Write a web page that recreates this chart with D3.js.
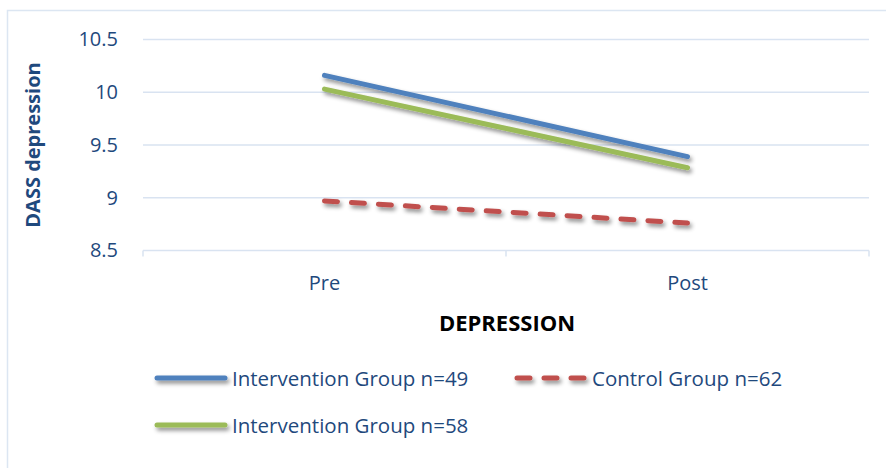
<!DOCTYPE html>
<html>
<head>
<meta charset="utf-8">
<script src="https://cdn.jsdelivr.net/npm/d3@7"></script>
<style>
  html, body { margin: 0; padding: 0; background: #fff; }
  svg { display: block; }
  text { font-family: "Open Sans", "Noto Sans", sans-serif; }
</style>
</head>
<body>
<svg id="chart" width="886" height="468"></svg>
<script>
// Mean DASS depression scores before and after
const timepoints = ["Pre", "Post"];
const intervention49 = [10.16, 9.39];
const control62 = [8.97, 8.76];
const intervention58 = [10.03, 9.285];
const yTicks = [8.5, 9, 9.5, 10, 10.5];

const series = [
  { name: "Intervention Group n=49", values: intervention49, color: "#4F81BD", dash: null },
  { name: "Intervention Group n=58", values: intervention58, color: "#9BBB59", dash: null },
  { name: "Control Group n=62", values: control62, color: "#C0504D", dash: "13,14" }
];

const svg = d3.select("#chart");
const textColor = "#1F497D";
const gridColor = "#D9E3F1";

// outer frame
svg.append("rect")
  .attr("x", 7.5).attr("y", 10.5)
  .attr("width", 890).attr("height", 470)
  .attr("fill", "none").attr("stroke", "#DCE6F2").attr("stroke-width", 1.5);

// soft drop shadow for the series lines (user-space region so flat lines keep it)
const defs = svg.append("defs");
const f = defs.append("filter").attr("id", "shadow")
  .attr("filterUnits", "userSpaceOnUse")
  .attr("x", 0).attr("y", 0).attr("width", 886).attr("height", 468);
f.append("feDropShadow").attr("dx", 2).attr("dy", 3).attr("stdDeviation", 2)
  .attr("flood-color", "#000").attr("flood-opacity", 0.45);

const plot = { left: 143, right: 869, top: 39.5, bottom: 250.5 };

const x = d3.scaleBand().domain(timepoints).range([plot.left, plot.right]);
const y = d3.scaleLinear().domain([8.5, 10.5]).range([plot.bottom, plot.top]);

// horizontal gridlines
svg.append("g").selectAll("line").data(yTicks.filter(t => t > 8.5)).join("line")
  .attr("x1", plot.left).attr("x2", plot.right)
  .attr("y1", d => y(d)).attr("y2", d => y(d))
  .attr("stroke", gridColor).attr("stroke-width", 1.5);

// y axis labels
const yAxis = svg.append("g").attr("transform", `translate(${plot.left},0)`)
  .call(d3.axisLeft(y).tickValues(yTicks).tickSize(0).tickPadding(25).tickFormat(d3.format("")));
yAxis.select(".domain").remove();
yAxis.selectAll("text")
  .attr("fill", textColor).attr("font-size", 20)
  .style("font-family", "'Open Sans', sans-serif");

// x axis with category-boundary ticks
const xAxis = svg.append("g").attr("transform", `translate(0,${plot.bottom})`);
xAxis.append("line").attr("x1", plot.left).attr("x2", plot.right)
  .attr("stroke", gridColor).attr("stroke-width", 1.5);
const bounds = [plot.left, ...timepoints.slice(1).map(t => x(t)), plot.right];
xAxis.selectAll("line.tick").data(bounds).join("line").attr("class", "tick")
  .attr("x1", d => d).attr("x2", d => d).attr("y1", 0).attr("y2", 6)
  .attr("stroke", gridColor).attr("stroke-width", 1.5);
xAxis.selectAll("text").data(timepoints).join("text")
  .attr("x", d => x(d) + x.bandwidth() / 2).attr("y", 39)
  .attr("text-anchor", "middle").attr("fill", textColor).attr("font-size", 20)
  .text(d => d);

// axis titles
svg.append("text")
  .attr("transform", `translate(40,${(plot.top + plot.bottom) / 2}) rotate(-90)`)
  .attr("text-anchor", "middle").attr("fill", textColor)
  .attr("font-size", 20).attr("font-weight", "bold")
  .text("DASS depression");
svg.append("text")
  .attr("x", 507).attr("y", 331)
  .attr("text-anchor", "middle").attr("fill", "#000")
  .attr("font-size", 22).attr("font-weight", "bold")
  .text("DEPRESSION");

// series lines
const line = d3.line()
  .x((d, i) => x(timepoints[i]) + x.bandwidth() / 2)
  .y(d => y(d));

svg.append("g").selectAll("path").data(series).join("path")
  .attr("d", d => line(d.values))
  .attr("fill", "none")
  .attr("stroke", d => d.color)
  .attr("stroke-width", 5)
  .attr("stroke-linecap", "round")
  .attr("stroke-dasharray", d => d.dash)
  .attr("filter", "url(#shadow)");

// legend
const legendItems = [
  { s: series[0], lx: 157, ly: 378 },
  { s: series[2], lx: 517, ly: 378 },
  { s: series[1], lx: 157, ly: 425 }
];
const lg = svg.append("g").selectAll("g").data(legendItems).join("g");
lg.append("line")
  .attr("x1", d => d.lx).attr("x2", d => d.lx + 68)
  .attr("y1", d => d.ly).attr("y2", d => d.ly)
  .attr("stroke", d => d.s.color).attr("stroke-width", 5)
  .attr("stroke-linecap", "round")
  .attr("stroke-dasharray", d => d.s.dash)
  .attr("filter", "url(#shadow)");
lg.append("text")
  .attr("x", d => d.lx + 75).attr("y", d => d.ly + 8)
  .attr("fill", textColor).attr("font-size", 20.5)
  .text(d => d.s.name);
</script>
</body>
</html>
